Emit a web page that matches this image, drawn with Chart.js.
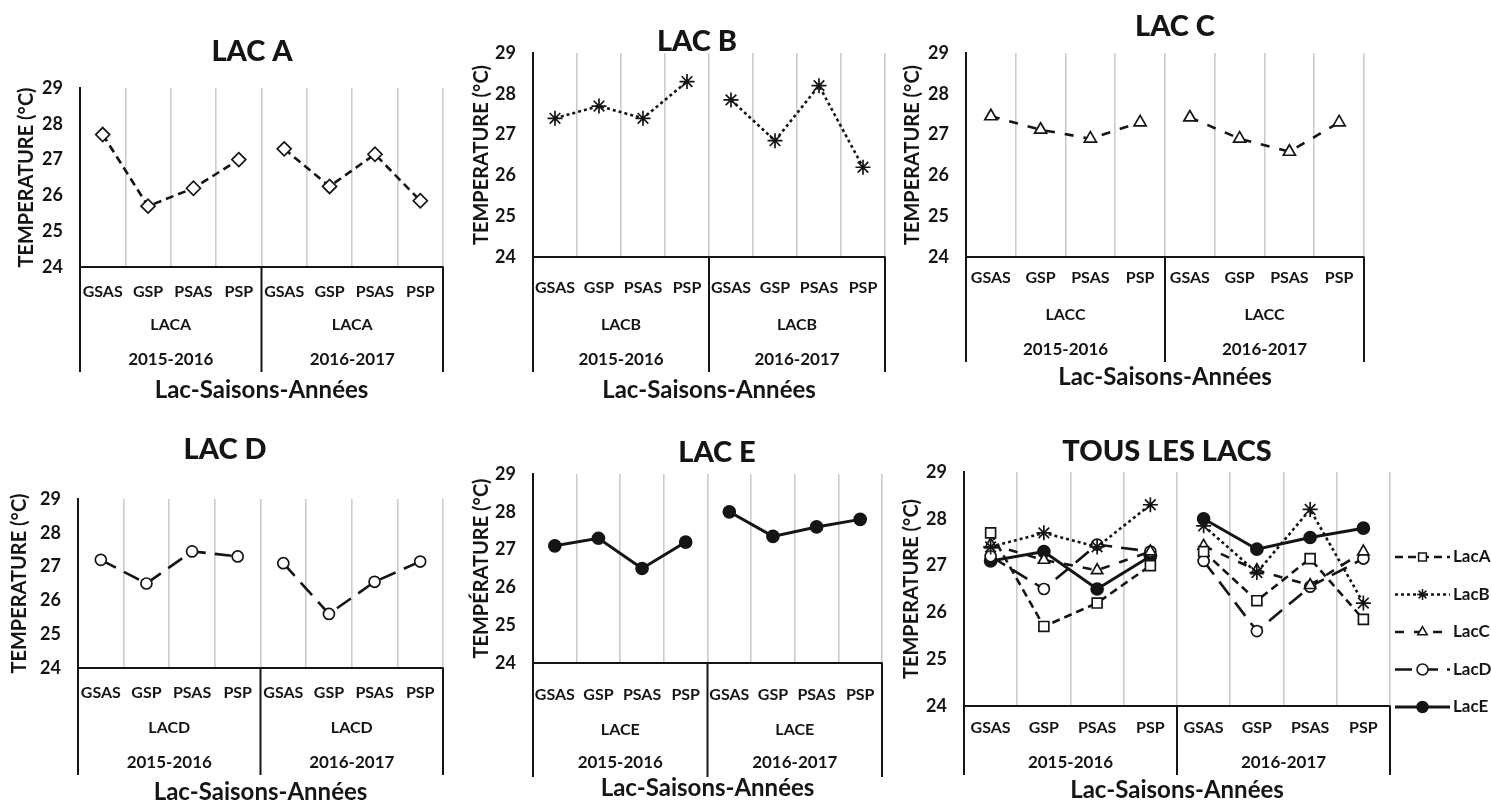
<!DOCTYPE html>
<html>
<head>
<meta charset="utf-8">
<script src="https://cdn.jsdelivr.net/npm/chart.js"></script>
<style>
  html, body { margin: 0; padding: 0; background: #fff; }
  #page { position: relative; width: 1491px; height: 803px; overflow: hidden; background: #fff; }
  #page canvas { position: absolute; }
</style>
</head>
<body>
<div id="page"></div>
<script>
// categories / tick labels
const seasons = ["GSAS", "GSP", "PSAS", "PSP", "GSAS", "GSP", "PSAS", "PSP"];
const years = ["2015-2016", "2016-2017"];
const yTicks = [24, 25, 26, 27, 28, 29];

// temperature (°C) per lake, 2015-2016 then 2016-2017
const lacA = [27.7, 25.7, 26.2, 27.0, 27.3, 26.25, 27.15, 25.85];
const lacB = [27.4, 27.7, 27.4, 28.3, 27.85, 26.85, 28.2, 26.2];
const lacC = [27.45, 27.12, 26.9, 27.3, 27.42, 26.9, 26.58, 27.3];
const lacD = [27.2, 26.5, 27.45, 27.3, 27.1, 25.6, 26.55, 27.15];
const lacE = [27.1, 27.3, 26.5, 27.2, 28.0, 27.35, 27.6, 27.8];

const INK = "#151515";
Chart.defaults.font.family = "Lato, 'Open Sans', sans-serif";
Chart.defaults.color = INK;

// line / marker look of each lake
const lakeStyle = {
  A: { dash: [8, 5], point: "rectRot", radius: 7, fill: "#fff", width: 2.6 },
  B: { dash: [3, 3], point: "star", radius: 7.5, fill: "#fff", width: 2.6 },
  C: { dash: [9, 10], point: "triangle", radius: 7, fill: "#fff", width: 2.6 },
  D: { dash: [17, 9], point: "circle", radius: 5.5, fill: "#fff", width: 2.6 },
  E: { dash: [], point: "circle", radius: 6, fill: INK, width: 3 }
};

const panels = [
  { title: "LAC A", tx: 252, ty: 52, box: [0, 0, 470], plot: [80, 88, 443, 267],
    yTitle: "TEMPERATURE (°C)", yTitleX: 27, group: "LACA",
    rows: { cat: 25, group: 58, year: 93, bottom: 105, title: 123 },
    series: [{ name: "LacA", data: lacA, s: "A" }] },
  { title: "LAC B", tx: 697, ty: 42, box: [460, 0, 440], plot: [533, 53, 885, 257],
    yTitle: "TEMPERATURE (°C)", yTitleX: 482, group: "LACB",
    rows: { cat: 31, group: 68, year: 103, bottom: 115, title: 133 },
    series: [{ name: "LacB", data: lacB, s: "B" }] },
  { title: "LAC C", tx: 1175, ty: 27, box: [895, 0, 490], plot: [966, 53, 1364, 257],
    yTitle: "TEMPERATURE (°C)", yTitleX: 913, group: "LACC",
    rows: { cat: 21, group: 58, year: 93, bottom: 105, title: 120 },
    series: [{ name: "LacC", data: lacC, s: "C" }] },
  { title: "LAC D", tx: 225, ty: 450, box: [0, 410, 470], plot: [78, 499, 443, 668],
    yTitle: "TEMPERATURE (°C)", yTitleX: 20, group: "LACD",
    rows: { cat: 25, group: 60, year: 95, bottom: 107, title: 124 },
    series: [{ name: "LacD", data: lacD, s: "D" }] },
  { title: "LAC E", tx: 717, ty: 453, box: [460, 410, 440], plot: [533, 474, 882, 663],
    yTitle: "TEMPÉRATURE (°C)", yTitleX: 482, group: "LACE",
    rows: { cat: 32, group: 67, year: 100, bottom: 114, title: 125 },
    series: [{ name: "LacE", data: lacE, s: "E" }] },
  { title: "TOUS LES LACS", tx: 1167, ty: 452, box: [895, 410, 596], plot: [964, 472, 1390, 706],
    yTitle: "TEMPERATURE (°C)", yTitleX: 912, group: null,
    rows: { cat: 22, group: 0, year: 57, bottom: 69, title: 84 },
    legend: { x: 1395, y: 557, step: 37.5 },
    series: [
      { name: "LacA", data: lacA, s: "A", point: "rect", radius: 7 },
      { name: "LacB", data: lacB, s: "B" },
      { name: "LacC", data: lacC, s: "C", radius: 6.5 },
      { name: "LacD", data: lacD, s: "D" },
      { name: "LacE", data: lacE, s: "E" }
    ] }
];

function tablePlugin(p) {
  return {
    id: "lakeTable",
    afterDraw(chart) {
      const ctx = chart.ctx;
      const a = chart.chartArea;
      const xs = chart.scales.x;
      const bx = p.box[0], by = p.box[1];
      const mid = (xs.getPixelForValue(3) + xs.getPixelForValue(4)) / 2;
      const bottom = a.bottom + p.rows.bottom;
      ctx.save();
      ctx.strokeStyle = INK;
      ctx.lineWidth = 2;
      [a.left, mid, a.right].forEach(px => {
        ctx.beginPath();
        ctx.moveTo(px, a.bottom);
        ctx.lineTo(px, bottom);
        ctx.stroke();
      });
      ctx.fillStyle = INK;
      ctx.textAlign = "center";
      ctx.textBaseline = "middle";
      const halves = [(a.left + mid) / 2, (mid + a.right) / 2];
      ctx.font = "bold 16px Lato";
      if (p.group) halves.forEach(h => ctx.fillText(p.group, h, a.bottom + p.rows.group));
      ctx.font = "bold 17px Lato";
      halves.forEach((h, i) => ctx.fillText(years[i], h, a.bottom + p.rows.year));
      ctx.font = "900 29px Lato";
      ctx.fillText(p.title, p.tx - bx, p.ty - by);

      if (p.legend) {
        chart.data.datasets.forEach((ds, i) => {
          const ly = p.legend.y + i * p.legend.step - by;
          const x1 = p.legend.x - bx, x2 = x1 + 55, xm = (x1 + x2) / 2;
          ctx.strokeStyle = INK;
          ctx.lineWidth = ds.borderWidth;
          ctx.setLineDash(ds.borderDash);
          ctx.beginPath();
          ctx.moveTo(x1, ly);
          ctx.lineTo(x2, ly);
          ctx.stroke();
          ctx.setLineDash([]);
          ctx.fillStyle = ds.pointBackgroundColor;
          ctx.lineWidth = 1.5;
          Chart.helpers.drawPoint(ctx, { pointStyle: ds.pointStyle, radius: 5.5, rotation: 0, borderWidth: 1.5 }, xm, ly);
          ctx.fillStyle = INK;
          ctx.textAlign = "left";
          ctx.font = "bold 17px Lato";
          ctx.fillText(ds.label, x2 + 3, ly);
        });
      }
      ctx.restore();
    }
  };
}

function buildChart(p) {
  const page = document.getElementById("page");
  const [bx, by, bw] = p.box;
  const [pl, pt, pr, pb] = p.plot;
  const xh = p.rows.title + 15;
  const bh = pb + xh - by;
  const canvas = document.createElement("canvas");
  canvas.width = bw;
  canvas.height = bh;
  canvas.style.left = bx + "px";
  canvas.style.top = by + "px";
  canvas.style.width = bw + "px";
  canvas.style.height = bh + "px";
  page.appendChild(canvas);
  const yw = pl - bx;

  const datasets = p.series.map(sr => {
    const st = lakeStyle[sr.s];
    return {
      label: sr.name,
      data: sr.data,
      borderColor: INK,
      borderWidth: st.width,
      borderDash: st.dash,
      // no line between the two years
      segment: { borderColor: c => (c.p0DataIndex === 3 ? "rgba(0,0,0,0)" : undefined) },
      tension: 0,
      fill: false,
      pointStyle: sr.point || st.point,
      pointRadius: sr.radius || st.radius,
      pointBackgroundColor: st.fill,
      pointBorderColor: INK,
      pointBorderWidth: 1.7
    };
  });

  new Chart(canvas, {
    type: "line",
    data: { labels: seasons, datasets },
    options: {
      responsive: false,
      animation: false,
      devicePixelRatio: 1,
      layout: { padding: { left: 0, top: pt - by, right: bx + bw - pr, bottom: 0 } },
      plugins: { legend: { display: false }, tooltip: { enabled: false } },
      scales: {
        x: {
          type: "category",
          offset: true,
          grid: { offset: true, color: "#cccccc", lineWidth: 1.6, drawTicks: false },
          border: { display: true, color: INK, width: 2 },
          ticks: { padding: p.rows.cat - 9.6, autoSkip: false, maxRotation: 0,
                   font: { size: 16, weight: "bold" }, color: INK },
          title: { display: true, text: "Lac-Saisons-Années", padding: 0,
                   font: { size: 24, weight: "bold" }, color: INK },
          afterFit: s => { s.height = xh; }
        },
        y: {
          min: 24, max: 29,
          afterBuildTicks: s => { s.ticks = yTicks.map(v => ({ value: v })); },
          grid: { display: false, drawTicks: false },
          border: { display: true, color: INK, width: 2 },
          ticks: { padding: 17, font: { size: 18, weight: "bold" }, color: INK },
          title: { display: true, text: p.yTitle, padding: { top: p.yTitleX - bx - 12, bottom: 0 },
                   font: { size: 20, weight: "bold" }, color: INK },
          afterFit: s => { s.width = yw; }
        }
      }
    },
    plugins: [tablePlugin(p)]
  });
}

panels.forEach(buildChart);
</script>
</body>
</html>
